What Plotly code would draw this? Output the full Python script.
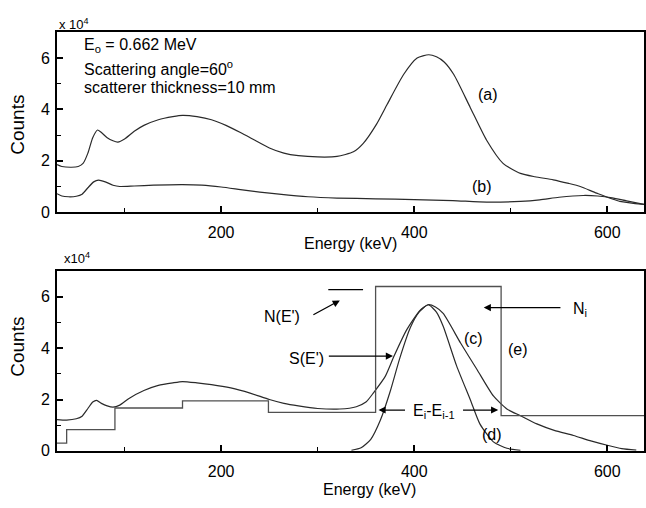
import plotly.graph_objects as go

# ---------------- data (counts in units of 10^4) ----------------
energy_a = [30, 35, 45, 52, 57, 62, 67, 72, 76, 82, 88, 93, 100, 110, 120, 135, 150, 160, 175, 190,
            205, 220, 235, 250, 265, 280, 300, 320, 337, 347, 361, 372, 389, 403, 415, 423, 431, 441,
            458, 475, 492, 510, 525, 544, 560, 572, 589, 613, 638]
counts_a = [1.85, 1.78, 1.75, 1.78, 1.9, 2.3, 2.9, 3.2, 3.1, 2.9, 2.78, 2.73, 2.85, 3.15, 3.38, 3.6, 3.72, 3.77, 3.72, 3.6,
            3.38, 3.1, 2.8, 2.5, 2.3, 2.2, 2.15, 2.17, 2.35, 2.67, 3.43, 4.2, 5.36, 6.0, 6.13, 6.05, 5.85, 5.36,
            4.08, 2.8, 1.9, 1.51, 1.38, 1.26, 1.12, 1.0, 0.74, 0.42, 0.3]

energy_b = [30, 35, 42, 50, 56, 62, 68, 73, 80, 88, 95, 110, 130, 160, 180, 200, 220, 240, 260, 290,
            320, 360, 400, 440, 475, 510, 530, 550, 575, 590, 605, 620, 638]
counts_b = [0.72, 0.63, 0.6, 0.62, 0.7, 0.95, 1.18, 1.25, 1.18, 1.05, 1.0, 1.02, 1.05, 1.07, 1.05, 0.98, 0.88, 0.78, 0.7, 0.6,
            0.55, 0.52, 0.49, 0.45, 0.39, 0.42, 0.48, 0.58, 0.65, 0.63, 0.56, 0.44, 0.3]

energy_c = [30, 40, 50, 56, 62, 67, 71, 76, 82, 88, 95, 105, 120, 135, 150, 160, 175, 190, 210, 230,
            250, 265, 280, 300, 323, 340, 350, 358, 370, 379, 392, 406, 414.5, 422, 430, 448, 465, 482,
            496, 510, 527, 545, 565, 582, 600, 615, 630]
counts_c = [1.22, 1.2, 1.25, 1.35, 1.65, 1.9, 1.97, 1.85, 1.75, 1.7, 1.78, 2.05, 2.35, 2.55, 2.65, 2.7, 2.65, 2.58, 2.45, 2.25,
            2.0, 1.85, 1.75, 1.65, 1.63, 1.72, 1.9, 2.27, 2.9, 3.68, 4.7, 5.47, 5.69, 5.6, 5.35, 4.2, 3.17, 2.14,
            1.63, 1.37, 1.05, 0.8, 0.6, 0.4, 0.22, 0.09, 0.03]

energy_d = [335, 345, 355, 365, 375, 385, 396, 405, 414.5, 423, 430, 444, 458, 468, 482, 496, 510]
counts_d = [0.02, 0.12, 0.45, 1.2, 2.3, 3.6, 4.8, 5.4, 5.69, 5.4, 4.85, 3.3, 2.0, 1.05, 0.35, 0.1, 0.02]

bin_edges = [30, 40, 90, 160, 249, 360, 490, 638]
bin_counts = [0.3, 0.83, 1.67, 1.95, 1.5, 6.4, 1.37]

x_range = [30, 638]
y_range = [0, 7]
x_ticks = [200, 400, 600]
y_ticks = [0, 2, 4, 6]

FONT = "Liberation Sans, Arial, sans-serif"
CURVE = "#2a2a2a"
STEP = "#505050"

fig = go.Figure()
fig.add_trace(go.Scatter(x=energy_a, y=counts_a, mode="lines", line=dict(color=CURVE, width=1.2, shape="spline", smoothing=0.6), xaxis="x", yaxis="y"))
fig.add_trace(go.Scatter(x=energy_b, y=counts_b, mode="lines", line=dict(color=CURVE, width=1.2, shape="spline", smoothing=0.6), xaxis="x", yaxis="y"))
fig.add_trace(go.Scatter(x=energy_c, y=counts_c, mode="lines", line=dict(color=CURVE, width=1.2, shape="spline", smoothing=0.6), xaxis="x2", yaxis="y2"))
fig.add_trace(go.Scatter(x=energy_d, y=counts_d, mode="lines", line=dict(color=CURVE, width=1.2, shape="spline", smoothing=0.6), xaxis="x2", yaxis="y2"))
fig.add_trace(go.Scatter(x=bin_edges, y=bin_counts + [bin_counts[-1]], mode="lines", line=dict(color=STEP, width=1.3, shape="hv"), xaxis="x2", yaxis="y2"))

axis_common = dict(showgrid=False, zeroline=False, showline=True, linecolor="black", linewidth=2,
                   mirror=True, ticks="inside", ticklen=6, tickwidth=1.6, tickcolor="black",
                   tickfont=dict(family=FONT, size=16, color="black"))
xaxis_common = dict(axis_common, range=x_range, tickvals=x_ticks, ticklabelstandoff=5,
                    minor=dict(ticks="inside", ticklen=4, tickwidth=1.4, tickcolor="black", dtick=100, tick0=0))
yaxis_common = dict(axis_common, range=y_range, tickvals=y_ticks, ticklabelstandoff=2,
                    minor=dict(ticks="inside", ticklen=4, tickwidth=1.4, tickcolor="black", dtick=1, tick0=0))

fig.update_layout(
    width=646, height=508, margin=dict(l=0, r=0, t=0, b=0),
    paper_bgcolor="white", plot_bgcolor="white", showlegend=False,
    xaxis=dict(xaxis_common, domain=[57/646, 644/646], anchor="y"),
    yaxis=dict(yaxis_common, domain=[1-216/508, 1-33/508], anchor="x"),
    xaxis2=dict(xaxis_common, domain=[57/646, 644/646], anchor="y2"),
    yaxis2=dict(yaxis_common, domain=[1-459/508, 1-276/508], anchor="x2"),
)

ann = []
def txt(x, y, t, xref="x", yref="y", size=16, xanchor="center", yanchor="middle", angle=0):
    ann.append(dict(x=x, y=y, xref=xref, yref=yref, text=t, showarrow=False, xanchor=xanchor, yanchor=yanchor,
                    textangle=angle, font=dict(family=FONT, size=size, color="black")))

def arrow(x0, y0, x1, y1, xr="x2", yr="y2"):
    ann.append(dict(x=x1, y=y1, ax=x0, ay=y0, xref=xr, yref=yr, axref=xr, ayref=yr, text="",
                    showarrow=True, arrowhead=2, arrowsize=1.1, arrowwidth=1.3, arrowcolor="black"))

# top panel texts
txt(56, 6.5, "E<sub>o</sub> = 0.662 MeV", xanchor="left")
txt(56, 5.62, "Scattering angle=60<sup>o</sup>", xanchor="left")
txt(56, 4.85, "scatterer thickness=10 mm", xanchor="left")
txt(476.6, 4.58, "(a)")
txt(470.4, 1.0, "(b)")
txt(57/646, 1-24/508, "x 10<sup>4</sup>", xref="paper", yref="paper", size=13, xanchor="left")
txt(18/646, 1-127/508, "Counts", xref="paper", yref="paper", size=19, angle=-90)
txt(350/646, 1-248/508, "Energy (keV)", xref="paper", yref="paper", size=16)

# bottom panel texts
txt(62/646, 1-263/508, "x10<sup>4</sup>", xref="paper", yref="paper", size=13, xanchor="left")
txt(18/646, 1-353/508, "Counts", xref="paper", yref="paper", size=19, angle=-90)
txt(370/646, 1-498/508, "Energy (keV)", xref="paper", yref="paper", size=16)
txt(263, 5.23, "N(E')", xref="x2", yref="y2")
txt(288, 3.58, "S(E')", xref="x2", yref="y2")
txt(572, 5.5, "N<sub>i</sub>", xref="x2", yref="y2")
txt(461, 4.38, "(c)", xref="x2", yref="y2")
txt(507.7, 3.96, "(e)", xref="x2", yref="y2")
txt(480.8, 0.65, "(d)", xref="x2", yref="y2")
txt(420, 1.55, "E<sub>i</sub>-E<sub>i-1</sub>", xref="x2", yref="y2")

arrow(294, 5.27, 323, 5.86)
arrow(310, 3.69, 378, 3.69)
arrow(553, 5.58, 472, 5.58)
arrow(392, 1.59, 363, 1.59)
arrow(449, 1.59, 487, 1.59)

fig.update_layout(annotations=ann)
fig.add_shape(type="line", x0=311, x1=347, y0=6.28, y1=6.28, xref="x2", yref="y2", line=dict(color="black", width=1.3))

fig.write_html("out.html")
